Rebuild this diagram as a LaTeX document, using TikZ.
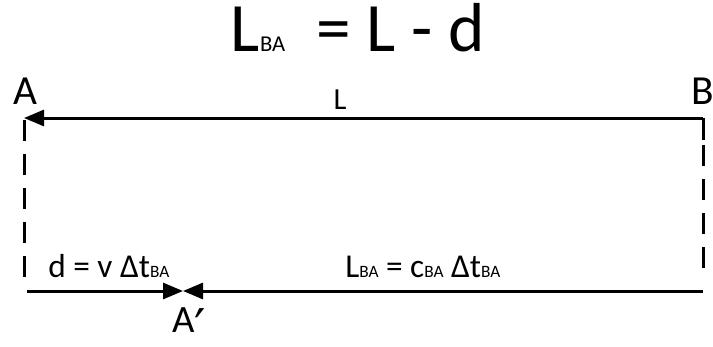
\documentclass[tikz,border=0pt]{standalone}
\usepackage{fontspec}
\setmainfont{Carlito}
\newfontfamily\primefont{DejaVu Sans}
\usepackage{tkz-euclide}
\usetikzlibrary{arrows.meta}
\newcommand{\lbsub}[2][13]{{\fontsize{#1}{#1}\selectfont #2}}
\tikzset{
  seg/.style={line width=2.25pt},
  tip/.style={-{Triangle[length=15pt,width=12pt]}},
  gap/.style={dash pattern=on 15.75pt off 9.75pt},
  lbl/.style={inner sep=0pt,anchor=base,font=\fontsize{25}{25}\selectfont}
}
\begin{document}
\begin{tikzpicture}[x=0.75pt,y=-0.75pt]
    \useasboundingbox (0,0) rectangle (713,346);
    \tkzDefPoint(24,118){A}
    \tkzDefPoint(703,118){B}
    \tkzDefPoint(24,277){Ad}
    \tkzDefPoint(703,140){Bc}
    \tkzDefPoint(703,277){Bd}
    \tkzDefPoint(27,291){P}
    \tkzDefPoint(183,291){M}
    \tkzDefPoint(703,291){Q}
    % top segment and sides
    \draw[seg,tip] (B) -- (A);
    \draw[seg] (B) -- (Bc);
    \draw[seg,gap] (703,145) -- (Bd);
    \draw[seg,gap] (24,120) -- (Ad);
    % bottom segment
    \draw[seg,tip] (P) -- (M);
    \draw[seg,tip] (Q) -- (M);
    % labels
    \node[lbl,font=\fontsize{52}{52}\selectfont] (title) at (358,52)
        {L\lbsub[17]{BA}\ \ = L - d};
    \node[lbl,font=\fontsize{31}{31}\selectfont] (la) at (25,104) {A};
    \node[lbl,font=\fontsize{31}{31}\selectfont] (lb) at (703,104) {B};
    \node[lbl,font=\fontsize{23}{23}\selectfont] (ll) at (340,109) {L};
    \node[lbl,anchor=base west] (ld) at (48,277)
        {d = v Δt\lbsub{BA}};
    \node[lbl,anchor=base west] (lba) at (345,277)
        {L\lbsub{BA} = c\lbsub{BA} Δt\lbsub{BA}};
    \node[lbl,anchor=base west,font=\fontsize{29}{29}\selectfont] (lam) at (172,332)
        {A{\primefont\fontsize{38}{38}\selectfont\smash{\raisebox{-10pt}{′}}}};
\end{tikzpicture}
\end{document}
